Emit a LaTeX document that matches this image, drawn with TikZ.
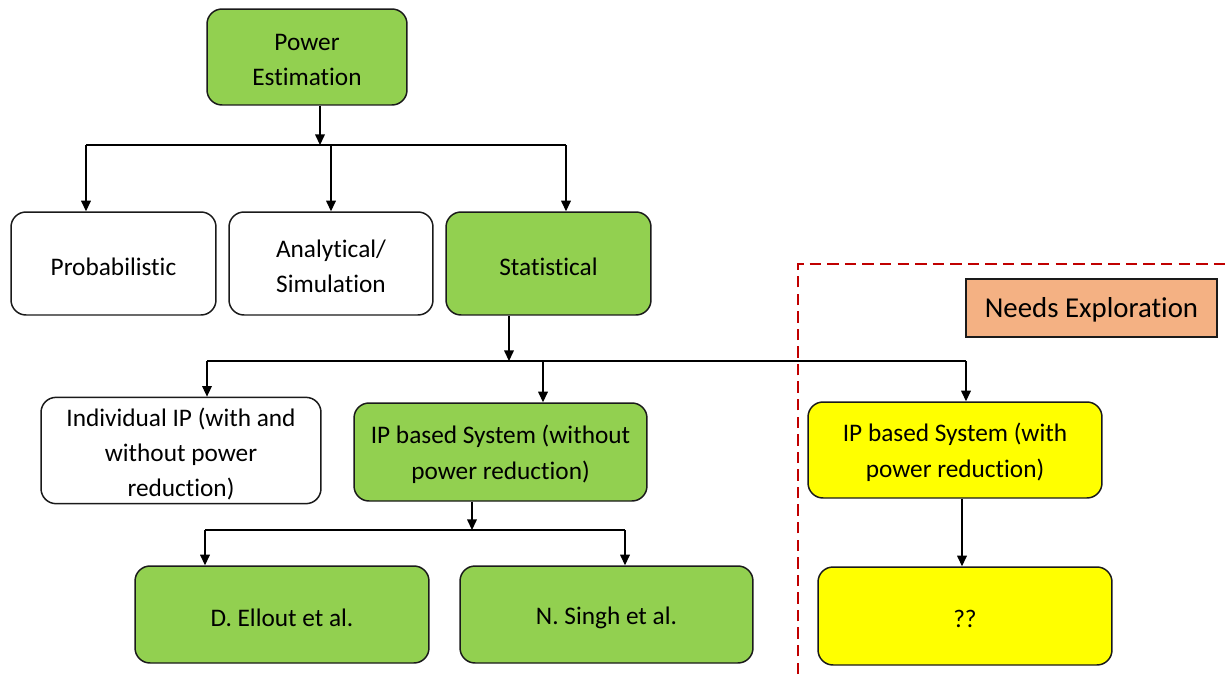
\documentclass[tikz,border=0pt]{standalone}
\usepackage{fontspec}
\setmainfont{Carlito}[Ligatures={NoCommon,NoContextual}, RawFeature={-liga;-clig;-calt;-dlig}]
\usetikzlibrary{arrows.meta}
\definecolor{pgreen}{HTML}{92D050}
\definecolor{pyellow}{HTML}{FFFF00}
\definecolor{porange}{HTML}{F4B183}
\definecolor{pred}{HTML}{C00000}
\definecolor{pborder}{HTML}{1A1A1A}
\newcommand{\tstrut}{\rule{0pt}{13.2pt}}
\tikzset{
  box/.style={draw=pborder, line width=0.85pt, rounded corners=0.3cm, align=center,
    font=\fontsize{14.4}{20}\selectfont, inner sep=2pt,
    execute at begin node={\rule{0pt}{13.5pt}}},
  gbox/.style={box, fill=pgreen},
  ybox/.style={box, fill=pyellow},
  wbox/.style={box, fill=white},
  obox/.style={draw=pborder, line width=0.85pt, fill=porange, align=center,
    font=\fontsize{16.4}{20}\selectfont, execute at begin node={\rule{0pt}{14pt}}},
  conn/.style={line width=0.7pt, draw=black},
  arr/.style={conn, -{Triangle[length=6pt,width=5.5pt]}},
  redline/.style={draw=pred, line width=0.8pt, dash pattern=on 6.5pt off 3.5pt}
}
\begin{document}
\begin{tikzpicture}[x=0.02cm,y=-0.02cm]
\useasboundingbox (0,0) rectangle (1225,674);
% nodes
\node[gbox, minimum width=4cm, minimum height=1.92cm] (pe) at (307,57) {\rule{0pt}{12.6pt}Power\\Estimation};
\node[wbox, minimum width=4.1cm, minimum height=2.06cm] (prob) at (113.5,263.5) {Probabilistic};
\node[wbox, minimum width=4.08cm, minimum height=2.06cm] (anal) at (331,263.5) {\tstrut Analytical/\\Simulation};
\node[gbox, minimum width=4.1cm, minimum height=2.06cm] (stat) at (548.5,263.5) {Statistical};
\node[obox, minimum width=5.02cm, minimum height=1.16cm] (needs) at (1091.5,308) {Needs Exploration};
\node[wbox, minimum width=5.6cm, minimum height=2.02cm] (indiv) at (181,450.5) {\rule{0pt}{14.5pt}Individual IP (with and\\without power\\reduction)};
\node[gbox, minimum width=5.86cm, minimum height=1.96cm] (ipw) at (500.5,452) {\tstrut IP based System (without\\power reduction)};
\node[ybox, minimum width=5.88cm, minimum height=1.92cm] (ipr) at (955,450) {\tstrut IP based System (with\\power reduction)};
\node[gbox, minimum width=5.88cm, minimum height=1.94cm] (ell) at (282,614.5) {D. Ellout et al.};
\node[gbox, minimum width=5.86cm, minimum height=1.94cm] (sing) at (606.5,614.5) {N. Singh et al.};
\node[ybox, minimum width=5.88cm, minimum height=1.96cm] (qq) at (965,616) {??};
% bus coordinates
\coordinate (b1L) at (86,145);
\coordinate (b1P) at (320,145);
\coordinate (b1M) at (331,145);
\coordinate (b1R) at (566,145);
\coordinate (b2L) at (207,361);
\coordinate (b2S) at (509,361);
\coordinate (b2M) at (543,361);
\coordinate (b2R) at (966,361);
\coordinate (b3L) at (205,530);
\coordinate (b3S) at (472,530);
\coordinate (b3R) at (625,530);
\coordinate (b4) at (962,530);
% level 1
\draw[arr] (pe.south -| b1P) -- (b1P);
\draw[conn] (b1L) -- (b1R);
\draw[arr] (b1L) -- (b1L |- prob.north);
\draw[arr] (b1M) -- (b1M |- anal.north);
\draw[arr] (b1R) -- (b1R |- stat.north);
% level 2
\draw[arr] (stat.south -| b2S) -- (b2S);
\draw[conn] (b2L) -- (b2R);
\draw[arr] (b2L) -- (b2L |- indiv.north);
\draw[arr] (b2M) -- (b2M |- ipw.north);
\draw[arr] (b2R) -- (b2R |- ipr.north);
% level 3
\draw[arr] (ipw.south -| b3S) -- (b3S);
\draw[conn] (b3L) -- (b3R);
\draw[arr] (b3L) -- (b3L |- ell.north);
\draw[arr] (b3R) -- (b3R |- sing.north);
\draw[arr] (ipr.south -| b4) -- (qq.north -| b4);
% dashed region
\coordinate (d1) at (798,674);
\coordinate (d2) at (798,264);
\coordinate (d3) at (1225,264);
\draw[redline] (d1) -- (d2) -- (d3);
\end{tikzpicture}
\end{document}
